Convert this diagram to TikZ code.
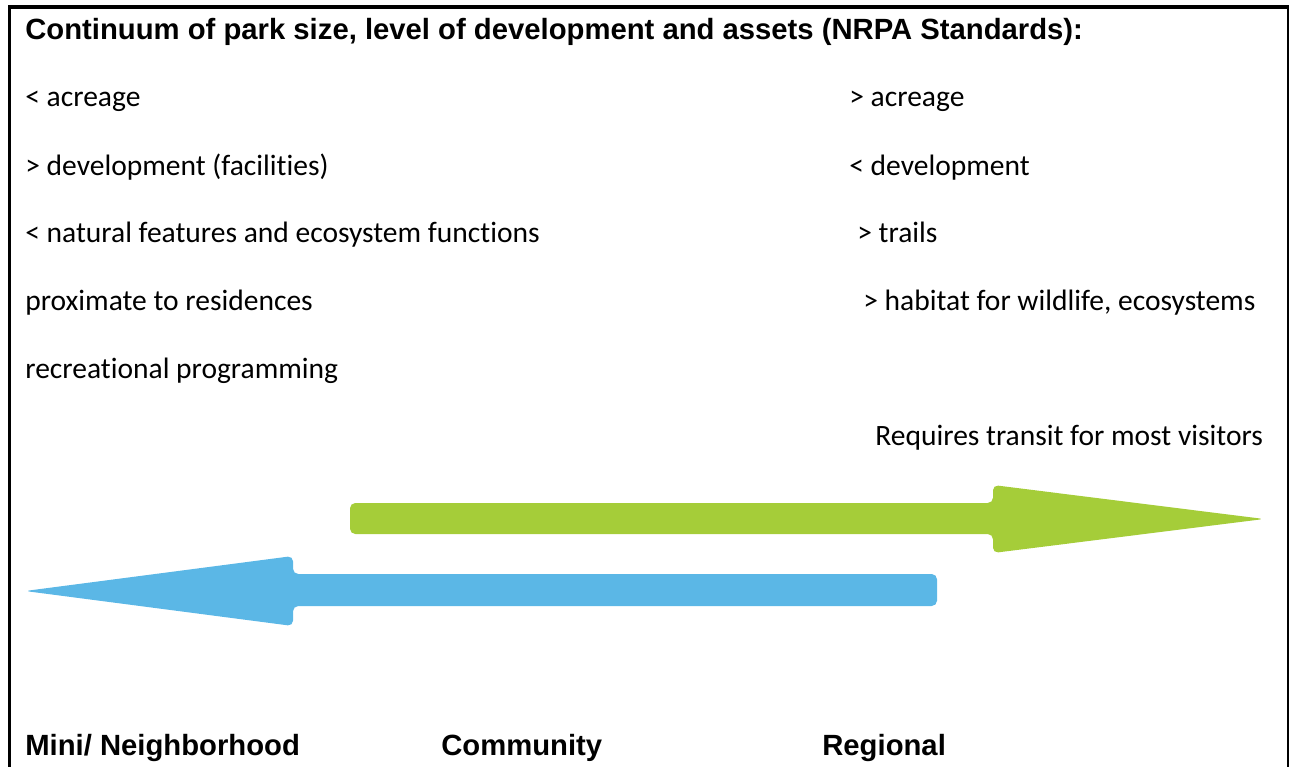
\documentclass[tikz,border=0pt]{standalone}
\usepackage{fontspec}
\setmainfont{Carlito}[Ligatures=NoCommon]
\newfontfamily\headfont{Liberation Sans}
\usepackage{xcolor}
\usetikzlibrary{positioning}
\definecolor{parkgreen}{RGB}{165,205,57}
\definecolor{parkblue}{RGB}{91,183,230}

\begin{document}
\begin{tikzpicture}[
    x=0.02cm, y=-0.02cm,
    item/.style={
        anchor=base west,
        inner sep=0pt,
        font=\fontsize{16.8}{20}\selectfont
    },
    heading/.style={
        anchor=base west,
        inner sep=0pt,
        font=\headfont\bfseries\fontsize{16.65}{20}\selectfont
    },
    bigarrow/.style={
        fill=#1,
        rounded corners=3pt
    }
]
\useasboundingbox (0,0) rectangle (1289,767);
% Frame (open at the bottom)
\draw[line width=0.07cm] (9.5,767) -- (9.5,7) -- (1289,7);
\draw[line width=0.04cm] (1288,7) -- (1288,767);

% Title
\node[heading] (title) at (25,40) {Continuum of park size, level of development and assets (NRPA Standards):};

% Small end of the continuum
\foreach \ypos/\txt [count=\i] in {107/{< acreage}, 175/{> development (facilities)}, 242/{< natural features and ecosystem functions}, 310/{proximate to residences}, 378/{recreational programming}} {
    \node[item] (small\i) at (25,\ypos) {\txt};
}
% Large end of the continuum
\node[item] (large1) at (849,107) {> acreage};
\node[item] (large2) at (849,175) {< development};
\node[item] (large3) at (857,242) {> trails};
\node[item] (large4) at (863,310) {> habitat for wildlife, ecosystems};
\node[item] (large5) at (875,445) {Requires transit for most visitors};

% Arrows
\fill[bigarrow=parkgreen] (350,503) -- (993,503) -- (993,485) -- (1264,519) -- (993,553) -- (993,534) -- (350,534) -- cycle;
\fill[bigarrow=parkblue] (937,574) -- (293,574) -- (293,556) -- (25,591) -- (293,626) -- (293,606) -- (937,606) -- cycle;

% Park classes
\node[heading] (mini) at (25,755) {Mini/ Neighborhood};
\node[heading] (community) at (441,755) {Community};
\node[heading] (regional) at (822,755) {Regional};
\end{tikzpicture}
\end{document}
